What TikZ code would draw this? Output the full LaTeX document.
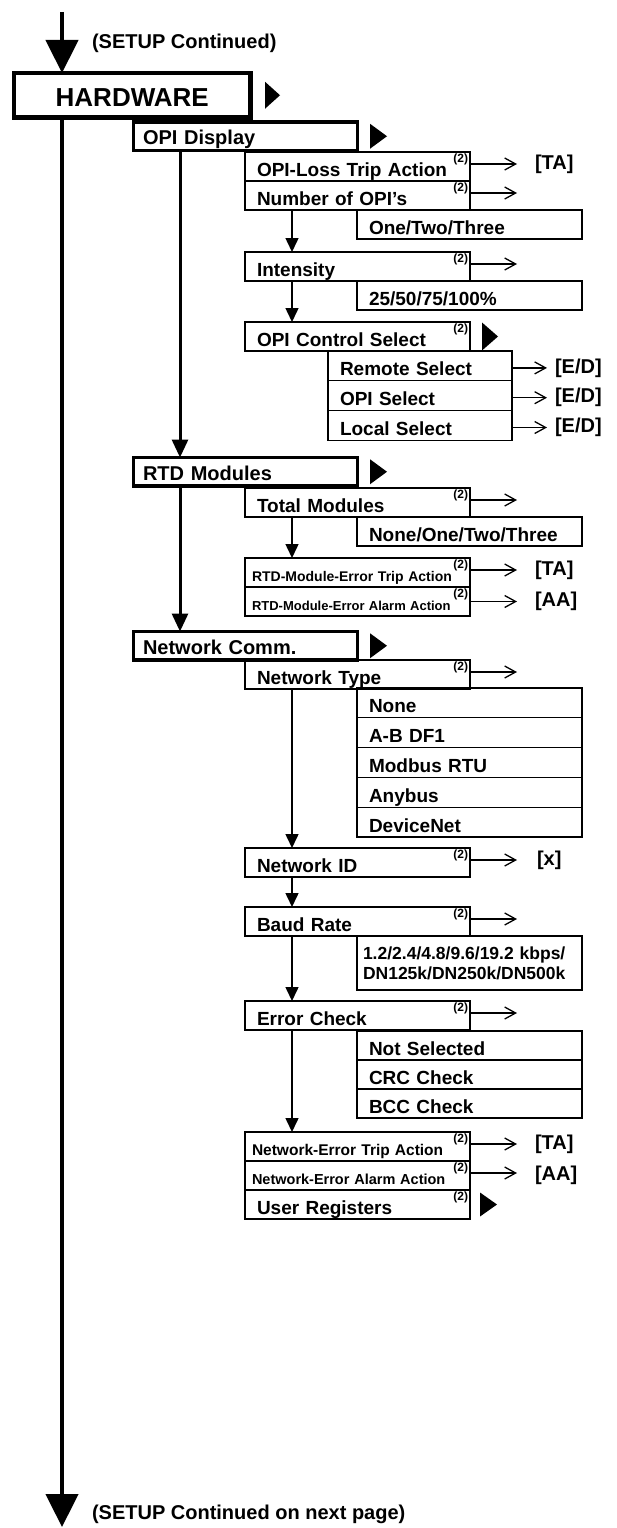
\documentclass[tikz,border=0pt]{standalone}
\usepackage{fontspec}
\setmainfont{Liberation Sans}
\usetikzlibrary{arrows.meta}
\begin{document}
\begin{tikzpicture}[x=1pt,y=-1pt,
  every node/.style={inner sep=0pt, outer sep=0pt},
  hwbox/.style={draw, line width=4.5pt, anchor=north west, text width=236.5pt, align=center, text height=33.5pt, text depth=11pt, font=\bfseries\fontsize{26}{26}\selectfont},
  lonebox/.style={draw, line width=3.5pt, anchor=north west, inner xsep=9.5pt, text width=205pt, align=left, text height=22.5pt, text depth=6pt, font=\bfseries\fontsize{20}{20}\selectfont},
  optbox/.style={draw, line width=1.3pt, anchor=north west, inner xsep=12pt, text width=201pt, align=left, text height=24pt, text depth=5pt, font=\bfseries\fontsize{19}{19}\selectfont},
  ltwobox/.style={optbox, label={[supmark]north east:(2)}},
  smallbox/.style={ltwobox, inner xsep=7pt, text width=211pt, text height=23pt, text depth=6pt},
  selbox/.style={optbox, text width=160pt, text height=24.8pt},
  baudbox/.style={draw, line width=1.3pt, anchor=north west, inner xsep=6pt, text width=213pt, align=left, minimum height=54pt, font=\bfseries\fontsize{17.5}{20}\selectfont},
  supmark/.style={anchor=north east, xshift=-2pt, yshift=-1.5pt, font=\bfseries\fontsize{12}{12}\selectfont},
  val/.style={anchor=west, font=\bfseries\fontsize{20}{20}\selectfont},
  notetext/.style={anchor=west, font=\bfseries\fontsize{20}{20}\selectfont},
  mainflow/.style={line width=4.5pt, -{Triangle[width=32pt,length=33pt]}},
  subflow/.style={line width=3pt, -{Triangle[width=16pt,length=18pt]}},
  stepflow/.style={line width=1.5pt, -{Triangle[width=13pt,length=14pt]}},
  valarrow/.style={line width=1.3pt, -{Straight Barb[length=11pt,width=12pt]}},
]
\useasboundingbox (0,0) rectangle (616,1528);

% ---------- main spine ----------
\node[hwbox] (hw) at (14,73) {HARDWARE};
\coordinate (top) at (62,12);
\coordinate (bot) at (62,1527);
\draw[mainflow] (top) -- (top |- hw.north);
\draw[mainflow] (top |- hw.south) -- (bot);
\node[notetext] (setup) at (92,43) {(SETUP Continued)};
\node[notetext] (setupnext) at (92,1514) {(SETUP Continued on next page)};
\fill ([xshift=14.5pt]hw.east) ++(0,-13.5) -- ++(15,13.5) -- ++(-15,13.5) -- cycle;

% ---------- level 1 ----------
\node[lonebox] (opi) at (133.5,122) {OPI Display};
\node[lonebox] (rtd) at (133.5,457.5) {RTD Modules};
\node[lonebox] (net) at (133.5,631.5) {Network Comm.};
\foreach \b in {opi,rtd,net}{
  \fill ([xshift=12.5pt]\b.east) ++(0,-12.5) -- ++(17,12.5) -- ++(-17,12.5) -- cycle;
}
\draw[subflow] ([xshift=46.5pt]opi.south west) -- ([xshift=46.5pt]rtd.north west);
\draw[subflow] ([xshift=46.5pt]rtd.south west) -- ([xshift=46.5pt]net.north west);

% ---------- OPI Display ----------
\node[ltwobox] (oploss) at (245,152) {OPI-Loss Trip Action};
\node[ltwobox] (nopi) at (245,181) {Number of OPI's};
\node[optbox] (onetwo) at (357,210) {One/Two/Three};
\node[ltwobox] (inten) at (245,252) {Intensity};
\node[optbox] (pct) at (357,281) {25/50/75/100\%};
\node[ltwobox] (ocs) at (245,322) {OPI Control Select};
\fill ([xshift=12pt]ocs.east) ++(0,-14) -- ++(16,14) -- ++(-16,14) -- cycle;
\node[selbox] (remsel) at (328,351) {Remote Select};
\node[selbox] (opisel) at (328,380.8) {OPI Select};
\node[selbox] (locsel) at (328,410.6) {Local Select};

\node[val] (ta1) at ([xshift=65pt,yshift=2.5pt]oploss.east) {[TA]};
\draw[valarrow] ([yshift=2.5pt]oploss.east) -- ([xshift=-18pt]ta1.west);
\coordinate (nopiE) at ([xshift=47pt,yshift=2.5pt]nopi.east);
\draw[valarrow] ([yshift=2.5pt]nopi.east) -- (nopiE);
\coordinate (intenE) at ([xshift=47pt,yshift=2.5pt]inten.east);
\draw[valarrow] ([yshift=2.5pt]inten.east) -- (intenE);
\draw[stepflow] ([xshift=47pt]nopi.south west) -- ([xshift=47pt]inten.north west);
\draw[stepflow] ([xshift=47pt]inten.south west) -- ([xshift=47pt]ocs.north west);

\node[val] (ed1) at ([xshift=43pt,yshift=-2pt]remsel.east) {[E/D]};
\node[val] (ed2) at ([xshift=43pt,yshift=-2pt]opisel.east) {[E/D]};
\node[val] (ed3) at ([xshift=43pt,yshift=-2pt]locsel.east) {[E/D]};
\draw[valarrow] ([yshift=-2pt]remsel.east) -- ([xshift=-8pt]ed1.west);
\draw[valarrow] ([yshift=-2pt]opisel.east) -- ([xshift=-8pt]ed2.west);
\draw[valarrow] ([yshift=-2pt]locsel.east) -- ([xshift=-8pt]ed3.west);

% ---------- RTD Modules ----------
\node[ltwobox] (totmod) at (245,488) {Total Modules};
\node[optbox] (nonethree) at (357,517) {None/One/Two/Three};
\node[smallbox, font=\bfseries\fontsize{14}{14}\selectfont] (rtdtrip) at (245,558) {RTD-Module-Error Trip Action};
\node[smallbox, font=\bfseries\fontsize{13}{13}\selectfont] (rtdalarm) at (245,587) {RTD-Module-Error Alarm Action};
\coordinate (totmodE) at ([xshift=47pt,yshift=2.5pt]totmod.east);
\draw[valarrow] ([yshift=2.5pt]totmod.east) -- (totmodE);
\draw[stepflow] ([xshift=47pt]totmod.south west) -- ([xshift=47pt]rtdtrip.north west);
\node[val] (ta2) at ([xshift=65pt,yshift=2.5pt]rtdtrip.east) {[TA]};
\node[val] (aa2) at ([xshift=65pt,yshift=0pt]rtdalarm.east) {[AA]};
\draw[valarrow] ([yshift=2.5pt]rtdtrip.east) -- ([xshift=-18pt]ta2.west);
\draw[valarrow] ([yshift=0pt]rtdalarm.east) -- ([xshift=-18pt]aa2.west);

% ---------- Network Comm. ----------
\node[ltwobox] (nettype) at (245,660) {Network Type};
\node[optbox, text height=24.8pt] (nt1) at (357,688) {None};
\node[optbox, text height=24.8pt] (nt2) at (357,717.8) {A-B DF1};
\node[optbox, text height=24.8pt] (nt3) at (357,747.6) {Modbus RTU};
\node[optbox, text height=24.8pt] (nt4) at (357,777.4) {Anybus};
\node[optbox, text height=24.8pt] (nt5) at (357,807.2) {DeviceNet};
\coordinate (nettypeE) at ([xshift=47pt,yshift=2.5pt]nettype.east);
\draw[valarrow] ([yshift=2.5pt]nettype.east) -- (nettypeE);

\node[ltwobox] (netid) at (245,848) {Network ID};
\node[val] (xval) at ([xshift=67pt,yshift=2.5pt]netid.east) {[x]};
\draw[valarrow] ([yshift=2.5pt]netid.east) -- ([xshift=-20pt]xval.west);
\draw[stepflow] ([xshift=47pt]nettype.south west) -- ([xshift=47pt]netid.north west);

\node[ltwobox] (baud) at (245,907) {Baud Rate};
\node[baudbox] (baudopt) at (357,936) {1.2/2.4/4.8/9.6/19.2 kbps/\\DN125k/DN250k/DN500k};
\coordinate (baudE) at ([xshift=47pt,yshift=2.5pt]baud.east);
\draw[valarrow] ([yshift=2.5pt]baud.east) -- (baudE);
\draw[stepflow] ([xshift=47pt]netid.south west) -- ([xshift=47pt]baud.north west);

\node[ltwobox] (errchk) at (245,1001) {Error Check};
\node[optbox] (ec1) at (357,1031) {Not Selected};
\node[optbox] (ec2) at (357,1060) {CRC Check};
\node[optbox] (ec3) at (357,1089) {BCC Check};
\coordinate (errchkE) at ([xshift=47pt,yshift=2.5pt]errchk.east);
\draw[valarrow] ([yshift=2.5pt]errchk.east) -- (errchkE);
\draw[stepflow] ([xshift=47pt]baud.south west) -- ([xshift=47pt]errchk.north west);

\node[smallbox, font=\bfseries\fontsize{15.5}{15.5}\selectfont] (nettrip) at (245,1132) {Network-Error Trip Action};
\node[smallbox, font=\bfseries\fontsize{14.5}{14.5}\selectfont] (netalarm) at (245,1161) {Network-Error Alarm Action};
\node[ltwobox] (userreg) at (245,1190) {User Registers};
\draw[stepflow] ([xshift=47pt]errchk.south west) -- ([xshift=47pt]nettrip.north west);
\node[val] (ta3) at ([xshift=65pt,yshift=2.5pt]nettrip.east) {[TA]};
\node[val] (aa3) at ([xshift=65pt,yshift=0pt]netalarm.east) {[AA]};
\draw[valarrow] ([yshift=2.5pt]nettrip.east) -- ([xshift=-18pt]ta3.west);
\draw[valarrow] ([yshift=2.5pt]netalarm.east) -- ([xshift=-18pt,yshift=2.5pt]aa3.west);
\fill ([xshift=10pt]userreg.east) ++(0,-12) -- ++(17,12) -- ++(-17,12) -- cycle;
\end{tikzpicture}
\end{document}
